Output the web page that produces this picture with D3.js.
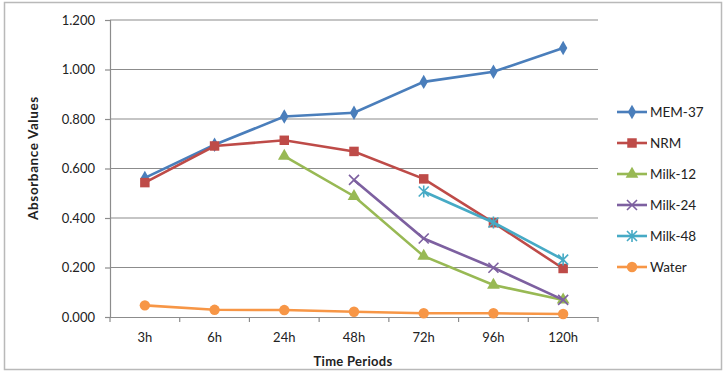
<!DOCTYPE html>
<html>
<head>
<meta charset="utf-8">
<script src="https://cdn.jsdelivr.net/npm/d3@7"></script>
<style>
  body { margin: 0; background: #fff; }
  svg { font-family: Lato, Calibri, "Open Sans", sans-serif; }
</style>
</head>
<body>
<svg id="chart" width="726" height="372"></svg>
<script>
const periods = ['3h', '6h', '24h', '48h', '72h', '96h', '120h'];
const yTicks = [0, 0.2, 0.4, 0.6, 0.8, 1.0, 1.2];

const mem37 = [0.562, 0.696, 0.810, 0.825, 0.950, 0.991, 1.087];
const nrm = [0.543, 0.691, 0.714, 0.669, 0.558, 0.381, 0.196];
const milk12 = [null, null, 0.650, 0.488, 0.246, 0.129, 0.069];
const milk24 = [null, null, null, 0.554, 0.317, 0.199, 0.069];
const milk48 = [null, null, null, null, 0.507, 0.382, 0.232];
const water = [0.047, 0.029, 0.028, 0.021, 0.015, 0.015, 0.012];

const series = [
  { name: 'MEM-37', values: mem37, color: '#4A7EBB', marker: 'diamond' },
  { name: 'NRM', values: nrm, color: '#BE4B48', marker: 'square' },
  { name: 'Milk-12', values: milk12, color: '#98B954', marker: 'triangle' },
  { name: 'Milk-24', values: milk24, color: '#7D60A0', marker: 'x' },
  { name: 'Milk-48', values: milk48, color: '#46AAC5', marker: 'star' },
  { name: 'Water', values: water, color: '#F79646', marker: 'circle' }
];

const svg = d3.select('#chart');
const margin = { top: 20, right: 128, bottom: 55, left: 110 };
const width = 726 - margin.left - margin.right;
const height = 372 - margin.top - margin.bottom;

// outer chart frame
svg.append('rect')
  .attr('x', 4.5).attr('y', 2.5)
  .attr('width', 717).attr('height', 367)
  .attr('fill', 'none').attr('stroke', '#b9b9b9').attr('stroke-width', 1.5);

const g = svg.append('g').attr('transform', `translate(${margin.left},${margin.top})`);

const x = d3.scaleBand().domain(periods).range([0, width]);
const y = d3.scaleLinear().domain([0, 1.2]).range([height, 0]);

// gridlines
g.append('g')
  .selectAll('line')
  .data(yTicks.filter((d) => d > 0))
  .join('line')
  .attr('x1', 0).attr('x2', width)
  .attr('y1', (d) => y(d)).attr('y2', (d) => y(d))
  .attr('stroke', '#8c8c8c').attr('stroke-width', 1.2);

// axes
const yAxis = g.append('g')
  .call(d3.axisLeft(y).tickValues(yTicks).tickFormat(d3.format('.3f')).tickSize(5).tickPadding(10));
const xAxis = g.append('g')
  .attr('transform', `translate(0,${height})`)
  .call(d3.axisBottom(x).tickSize(0).tickPadding(16));

[yAxis, xAxis].forEach((a) => {
  a.select('.domain').attr('stroke', '#8c8c8c').attr('stroke-width', 1.2);
  a.selectAll('.tick line').attr('stroke', '#8c8c8c').attr('stroke-width', 1.2);
  a.selectAll('text').attr('font-size', 13).attr('fill', '#222').attr('font-family', 'Lato, sans-serif');
});

// x tick marks between categories
g.append('g')
  .selectAll('line')
  .data(periods.concat(['end']))
  .join('line')
  .attr('x1', (d, i) => i * x.bandwidth()).attr('x2', (d, i) => i * x.bandwidth())
  .attr('y1', height).attr('y2', height + 5)
  .attr('stroke', '#8c8c8c').attr('stroke-width', 1.2);

// axis titles
svg.append('text')
  .attr('transform', `translate(38,${margin.top + 138}) rotate(-90)`)
  .attr('text-anchor', 'middle')
  .attr('font-size', 13.5).attr('font-weight', 'bold').attr('fill', '#222')
  .attr('letter-spacing', 0.6)
  .text('Absorbance Values');
svg.append('text')
  .attr('x', 353).attr('y', 366)
  .attr('text-anchor', 'middle')
  .attr('font-size', 13).attr('font-weight', 'bold').attr('fill', '#222')
  .attr('letter-spacing', 0.3)
  .text('Time Periods');

function drawMarker(sel, type, color) {
  if (type === 'x' || type === 'star') {
    const s = 5;
    sel.append('path')
      .attr('d', type === 'x'
        ? `M${-s},${-s}L${s},${s}M${-s},${s}L${s},${-s}`
        : `M${-s},${-s}L${s},${s}M${-s},${s}L${s},${-s}M0,${-s - 1}L0,${s + 1}`)
      .attr('stroke', color).attr('stroke-width', 1.6).attr('fill', 'none');
    return;
  }
  const sym = {
    diamond: d3.symbol(d3.symbolDiamond, 60),
    square: d3.symbol(d3.symbolSquare, 90),
    triangle: d3.symbol(d3.symbolTriangle, 70),
    circle: d3.symbol(d3.symbolCircle, 85)
  }[type];
  sel.append('path').attr('d', sym()).attr('fill', color);
}

const line = d3.line()
  .defined((d) => d !== null)
  .x((d, i) => x(periods[i]) + x.bandwidth() / 2)
  .y((d) => y(d));

series.forEach((s) => {
  g.append('path')
    .datum(s.values)
    .attr('fill', 'none')
    .attr('stroke', s.color)
    .attr('stroke-width', 2.6)
    .attr('d', line);
  g.append('g')
    .selectAll('g')
    .data(s.values.map((v, i) => ({ v, p: periods[i] })).filter((d) => d.v !== null))
    .join('g')
    .attr('transform', (d) => `translate(${x(d.p) + x.bandwidth() / 2},${y(d.v)})`)
    .each(function () { drawMarker(d3.select(this), s.marker, s.color); });
});

// legend
const legend = svg.append('g').attr('transform', 'translate(617,112)');
series.forEach((s, i) => {
  const item = legend.append('g').attr('transform', `translate(0,${i * 31})`);
  item.append('line').attr('x1', 0).attr('x2', 30).attr('y1', 0).attr('y2', 0)
    .attr('stroke', s.color).attr('stroke-width', 2.6);
  const m = item.append('g').attr('transform', 'translate(15,0)');
  drawMarker(m, s.marker, s.color);
  item.append('text')
    .attr('x', 33).attr('y', 0).attr('dy', '0.35em')
    .attr('font-size', 13.5).attr('fill', '#222')
    .text(s.name);
});
</script>
</body>
</html>
